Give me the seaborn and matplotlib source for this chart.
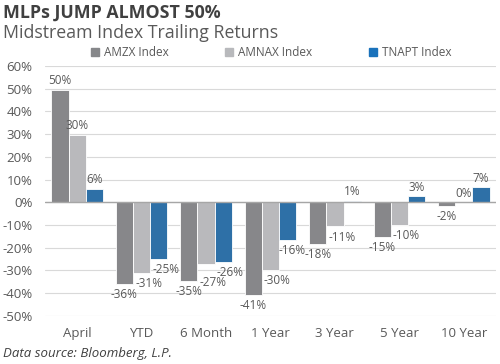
import matplotlib
matplotlib.use("Agg")
import matplotlib.pyplot as plt
import pandas as pd
import seaborn as sns

categories = ["April", "YTD", "6 Month", "1 Year", "3 Year", "5 Year", "10 Year"]
series_names = ["AMZX Index", "AMNAX Index", "TNAPT Index"]
amzx = [49.6, -35.8, -34.6, -40.8, -18.2, -15.2, -1.5]
amnax = [29.5, -31.2, -27.0, -29.8, -10.6, -10.0, 0.0]
tnapt = [6.0, -24.8, -26.2, -16.4, 0.5, 2.6, 6.6]
labels = {
    "AMZX Index": ["50%", "-36%", "-35%", "-41%", "-18%", "-15%", "-2%"],
    "AMNAX Index": ["30%", "-31%", "-27%", "-30%", "-11%", "-10%", "0%"],
    "TNAPT Index": ["6%", "-25%", "-26%", "-16%", "1%", "3%", "7%"],
}
yticks = list(range(-50, 70, 10))

colors = ["#86878a", "#b8b9bc", "#1a72bb"]
text_gray = "#595959"

df = pd.DataFrame({
    "period": categories * 3,
    "index": [s for s in series_names for _ in categories],
    "ret": amzx + amnax + tnapt,
})

sns.set_theme(style="white")
plt.rcParams["font.family"] = ["Open Sans", "DejaVu Sans"]

fig = plt.figure(figsize=(5, 3.64), dpi=100)
ax = fig.add_axes([0.09, 0.132, 0.902, 0.687])

sns.barplot(data=df, x="period", y="ret", hue="index", order=categories,
            hue_order=series_names, palette=colors, width=0.8,
            edgecolor="white", linewidth=0.6, ax=ax, legend=False)

ax.set_ylim(-50, 60)
ax.set_yticks(yticks)
ax.set_yticklabels([f"{t}%" for t in yticks], color=text_gray, fontsize=9.5)
ax.tick_params(axis="x", labelsize=9.5, labelcolor=text_gray, length=0, pad=8)
ax.tick_params(axis="y", length=0, pad=9)
ax.set_xlabel("")
ax.set_ylabel("")
ax.set_xlim(-0.5, len(categories) - 0.5)
for s in ax.spines.values():
    s.set_visible(False)
ax.yaxis.grid(True, color="#d9d9d9", linewidth=0.8)
ax.set_axisbelow(True)
ax.axhline(0, color="#a6a6a6", linewidth=1, zorder=3)

# data labels: negatives of the 2nd/3rd series sit a little to the right,
# a couple are nudged so they don't collide (as in the original)
nudge = {("AMNAX Index", "6 Month"): (5, -9), ("TNAPT Index", "1 Year"): (3, -3)}
for k, (cont, name) in enumerate(zip(ax.containers, series_names)):
    for bar, txt, cat in zip(cont.patches, labels[name], categories):
        h = bar.get_height()
        x = bar.get_x() + bar.get_width() / 2
        if h < 0:
            off = nudge.get((name, cat), (5 if k > 0 else 0, -3))
            ax.annotate(txt, (x, h), xytext=off, textcoords="offset points",
                        ha="center", va="top", fontsize=8.5, color=text_gray)
        else:
            ax.annotate(txt, (x, h), xytext=(0, 2), textcoords="offset points",
                        ha="center", va="bottom", fontsize=8.5, color=text_gray)

# legend
handles = [plt.Rectangle((0, 0), 1, 1, color=c) for c in colors]
fig.legend(handles, series_names, loc="center", bbox_to_anchor=(0.542, 0.855),
           ncol=3, frameon=False, fontsize=8.5, handlelength=0.7,
           handleheight=0.7, handletextpad=0.4, columnspacing=4.8,
           labelcolor=text_gray)

fig.text(0.006, 0.965, "MLPs JUMP ALMOST 50%", fontsize=12.8, fontweight="bold",
         color="#404040", va="center")
fig.text(0.006, 0.908, "Midstream Index Trailing Returns", fontsize=12.8,
         color=text_gray, va="center")
fig.text(0.006, 0.03, "Data source: Bloomberg, L.P.", fontsize=9.5,
         style="italic", color="#404040", va="center")

fig.savefig("out.png", dpi=100)
